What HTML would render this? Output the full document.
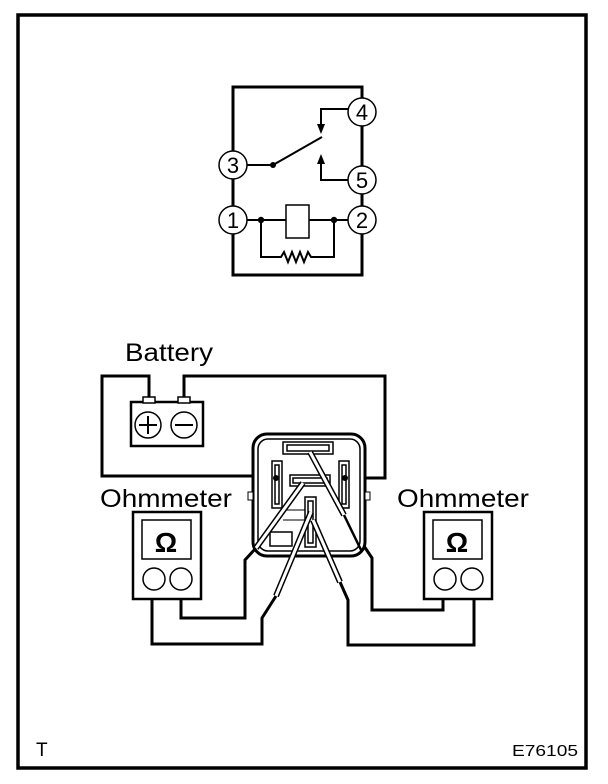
<!DOCTYPE html>
<html><head><meta charset="utf-8"><style>
html,body{margin:0;padding:0;background:#fff;}
svg{display:block;}
text{font-family:"Liberation Sans",Arial,sans-serif;fill:#000;}
</style></head><body>
<svg width="608" height="784" viewBox="0 0 608 784" xmlns="http://www.w3.org/2000/svg">
<rect width="608" height="784" fill="#fff"/>
<rect x="18" y="15" width="568" height="753" fill="none" stroke="#000" stroke-width="3.5"/>
<g fill="none" stroke="#000" stroke-width="3">
<polyline points="233,151 233,87 362,87 362,98"/>
<line x1="233" y1="179" x2="233" y2="206"/>
<polyline points="233,234 233,275 362,275 362,234"/>
<line x1="362" y1="126" x2="362" y2="166"/>
<line x1="362" y1="194" x2="362" y2="206"/>
</g>
<g fill="none" stroke="#000" stroke-width="2">
<line x1="247" y1="165" x2="273" y2="165"/>
<line x1="273" y1="165" x2="322" y2="137"/>
<polyline points="348,109 321,109 321,125"/>
<polyline points="348,180 321,180 321,163"/>
<line x1="247" y1="220" x2="286" y2="220"/>
<line x1="309" y1="220" x2="348" y2="220"/>
<rect x="286" y="205" width="23" height="33" fill="#fff" stroke-width="1.5"/>
<polyline points="261,220 261,257 281,257 284,252 288,262 292,252 296,262 300,252 304,262 308,252 311,257 334,257 334,220"/>
</g>
<polygon points="317,124 325,124 321,134" fill="#000"/>
<polygon points="317,164 325,164 321,154" fill="#000"/>
<circle cx="273" cy="165" r="3" fill="#000"/>
<circle cx="261" cy="220" r="3.2" fill="#000"/>
<circle cx="334" cy="220" r="3.2" fill="#000"/>
<g fill="#fff" stroke="#000" stroke-width="1.5">
<circle cx="362" cy="112" r="14"/>
<circle cx="362" cy="180" r="14"/>
<circle cx="362" cy="220" r="14"/>
<circle cx="233" cy="165" r="14"/>
<circle cx="233" cy="220" r="14"/>
</g>
<g font-size="22" text-anchor="middle">
<text x="362" y="120">4</text>
<text x="362" y="188">5</text>
<text x="362" y="228">2</text>
<text x="233" y="173">3</text>
<text x="233" y="228">1</text>
</g>
<text x="125" y="361" font-size="25" textLength="88" lengthAdjust="spacingAndGlyphs">Battery</text>
<g fill="none" stroke="#000" stroke-width="3">
<polyline points="149,398 149,376 102,376 102,476 275,476"/>
<polyline points="184,398 184,376 385,376 385,478 350,478"/>
</g>
<rect x="131" y="402" width="72" height="44" fill="#fff" stroke="#000" stroke-width="2.5"/>
<rect x="143" y="397" width="12" height="6" fill="#fff" stroke="#000" stroke-width="1.5"/>
<rect x="178" y="397" width="12" height="6" fill="#fff" stroke="#000" stroke-width="1.5"/>
<circle cx="148" cy="425" r="13" fill="#fff" stroke="#000" stroke-width="1.5"/>
<circle cx="184" cy="425" r="13" fill="#fff" stroke="#000" stroke-width="1.5"/>
<line x1="139" y1="425" x2="157" y2="425" stroke="#000" stroke-width="2"/>
<line x1="148" y1="416" x2="148" y2="434" stroke="#000" stroke-width="2"/>
<line x1="175" y1="425" x2="193" y2="425" stroke="#000" stroke-width="2"/>
<g fill="none" stroke="#000" stroke-width="3">
<polyline points="152,598 152,644 262,644 262,618 276,596"/>
<polyline points="181,598 181,618 245,618 245,560 256,548"/>
<polyline points="443,598 443,610 372,610 372,558 360,540"/>
<polyline points="474,598 474,645 348,645 348,600 340,582"/>
</g>
<rect x="253" y="434" width="112" height="122" rx="14" fill="#fff" stroke="#000" stroke-width="3"/>
<rect x="258" y="439" width="102" height="112" rx="10" fill="none" stroke="#000" stroke-width="1.5"/>
<rect x="248" y="492" width="5" height="8" fill="#fff" stroke="#000" stroke-width="1"/>
<rect x="365" y="492" width="5" height="8" fill="#fff" stroke="#000" stroke-width="1"/>
<g fill="#fff" stroke="#000" stroke-width="1.5">
<rect x="283" y="442" width="50" height="12"/>
<rect x="287" y="445" width="42" height="6"/>
<rect x="272" y="461" width="10" height="47"/>
<rect x="275" y="465" width="4" height="39"/>
<rect x="339" y="461" width="10" height="47"/>
<rect x="342" y="465" width="4" height="39"/>
<rect x="290" y="475" width="40" height="11"/>
<rect x="293" y="478" width="34" height="5"/>
<rect x="305" y="497" width="11" height="50"/>
<rect x="308" y="501" width="5" height="42"/>
<rect x="270" y="532" width="22" height="14"/>
</g>
<line x1="283" y1="510" x2="305" y2="510" stroke="#000" stroke-width="1"/>
<line x1="283" y1="520" x2="305" y2="520" stroke="#000" stroke-width="1"/>
<circle cx="276" cy="478" r="3" fill="#000"/>
<circle cx="345" cy="478" r="3" fill="#000"/>
<g stroke="#000" fill="none">
<line x1="303" y1="483" x2="256" y2="548" stroke-width="6"/>
<line x1="303" y1="483" x2="256" y2="548" stroke-width="3" stroke="#fff"/>
<line x1="310" y1="452" x2="344" y2="515" stroke-width="6"/>
<line x1="310" y1="452" x2="344" y2="515" stroke-width="3" stroke="#fff"/>
<line x1="311" y1="512" x2="276" y2="596" stroke-width="6"/>
<line x1="311" y1="512" x2="276" y2="596" stroke-width="3" stroke="#fff"/>
<line x1="313" y1="520" x2="340" y2="582" stroke-width="6"/>
<line x1="313" y1="520" x2="340" y2="582" stroke-width="3" stroke="#fff"/>
<line x1="344" y1="515" x2="362" y2="552" stroke-width="2.5"/>
</g>
<text x="100" y="507" font-size="25" textLength="132" lengthAdjust="spacingAndGlyphs">Ohmmeter</text>
<text x="397" y="507" font-size="25" textLength="132" lengthAdjust="spacingAndGlyphs">Ohmmeter</text>
<g fill="#fff" stroke="#000">
<rect x="133" y="512" width="68" height="87" stroke-width="2.5"/>
<rect x="142" y="520" width="49" height="39" stroke-width="1.5"/>
<circle cx="154" cy="579" r="11" stroke-width="1.5"/>
<circle cx="181" cy="579" r="11" stroke-width="1.5"/>
<rect x="424" y="512" width="68" height="87" stroke-width="2.5"/>
<rect x="433" y="520" width="49" height="39" stroke-width="1.5"/>
<circle cx="445" cy="579" r="11" stroke-width="1.5"/>
<circle cx="472" cy="579" r="11" stroke-width="1.5"/>
</g>
<text x="166" y="552" font-size="28" font-weight="bold" text-anchor="middle">Ω</text>
<text x="457" y="552" font-size="28" font-weight="bold" text-anchor="middle">Ω</text>
<text x="36" y="756" font-size="19">T</text>
<text x="512" y="756" font-size="16" textLength="66" lengthAdjust="spacingAndGlyphs">E76105</text>
</svg>
</body></html>
